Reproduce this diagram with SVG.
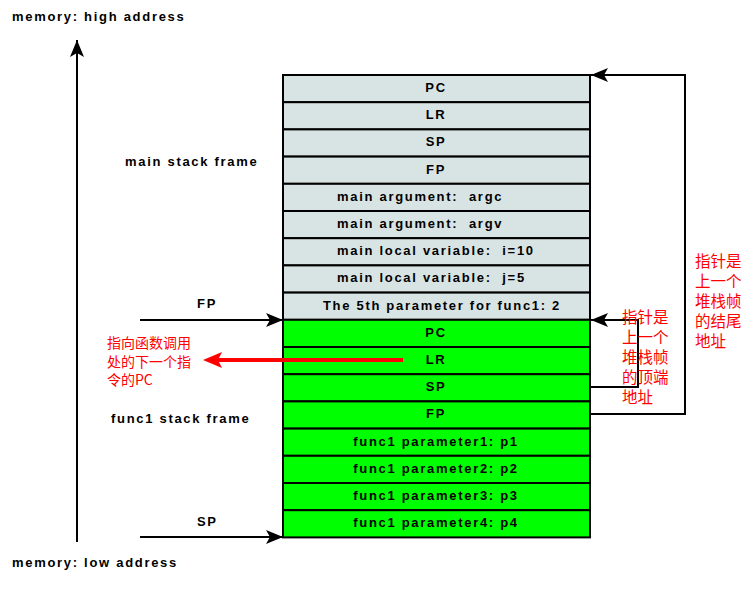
<svg xmlns="http://www.w3.org/2000/svg" width="755" height="592" viewBox="0 0 755 592">
<style>
.lbl{font-family:"Liberation Sans",Arial,sans-serif;font-weight:bold;font-size:13px;letter-spacing:1.7px;fill:#000;white-space:pre}
.cell text{font-family:"Liberation Sans",Arial,sans-serif;font-weight:bold;font-size:13px;letter-spacing:1.7px;fill:#000;white-space:pre}
.main rect{fill:#d8e4e4;stroke:#000;stroke-width:2}
.func rect{fill:#00ff00;stroke:#000;stroke-width:2}
.cn{fill:#000;text-anchor:middle}
.red{font-family:"Noto Sans CJK SC","Liberation Sans",sans-serif;font-size:15.5px;fill:#ff0000}
.redl{font-family:"Noto Sans CJK SC","Liberation Sans",sans-serif;font-size:14px;fill:#ff0000}
.ln{fill:none;stroke:#000;stroke-width:2}
</style>
<defs>
<marker id="ah" markerUnits="userSpaceOnUse" markerWidth="18" markerHeight="16" refX="17" refY="7" orient="auto">
<path d="M0,0 L17,7 L0,14 L4,7 z" fill="#000"/>
</marker>
</defs>
<rect width="755" height="592" fill="#fff"/>
<text class="lbl" x="12" y="21">memory: high address</text>
<text class="lbl" x="12" y="567">memory: low address</text>
<text class="lbl" x="125" y="166">main stack frame</text>
<text class="lbl" x="111" y="423">func1 stack frame</text>
<text class="lbl" x="197" y="308">FP</text>
<text class="lbl" x="197" y="526">SP</text>
<g id="main-pc" class="cell main"><rect x="283" y="75" width="307" height="27.2"/><text class="cn" x="436" y="92">PC</text></g>
<g id="main-lr" class="cell main"><rect x="283" y="102.2" width="307" height="27.2"/><text class="cn" x="436" y="119.2">LR</text></g>
<g id="main-sp" class="cell main"><rect x="283" y="129.4" width="307" height="27.2"/><text class="cn" x="436" y="146.4">SP</text></g>
<g id="main-fp" class="cell main"><rect x="283" y="156.6" width="307" height="27.2"/><text class="cn" x="436" y="173.6">FP</text></g>
<g id="main-argc" class="cell main"><rect x="283" y="183.8" width="307" height="27.2"/><text x="337" y="200.8">main argument:  argc</text></g>
<g id="main-argv" class="cell main"><rect x="283" y="211" width="307" height="27.2"/><text x="337" y="228">main argument:  argv</text></g>
<g id="main-i" class="cell main"><rect x="283" y="238.2" width="307" height="27.2"/><text x="337" y="255.2">main local variable:  i=10</text></g>
<g id="main-j" class="cell main"><rect x="283" y="265.4" width="307" height="27.2"/><text x="337" y="282.4">main local variable:  j=5</text></g>
<g id="main-5th" class="cell main"><rect x="283" y="292.6" width="307" height="27.2"/><text class="cn" x="442" y="309.6">The 5th parameter for func1: 2</text></g>
<g id="func-pc" class="cell func"><rect x="283" y="319.8" width="307" height="27.2"/><text class="cn" x="436" y="336.8">PC</text></g>
<g id="func-lr" class="cell func"><rect x="283" y="347" width="307" height="27.2"/><text class="cn" x="436" y="364">LR</text></g>
<g id="func-sp" class="cell func"><rect x="283" y="374.2" width="307" height="27.2"/><text class="cn" x="436" y="391.2">SP</text></g>
<g id="func-fp" class="cell func"><rect x="283" y="401.4" width="307" height="27.2"/><text class="cn" x="436" y="418.4">FP</text></g>
<g id="func-p1" class="cell func"><rect x="283" y="428.6" width="307" height="27.2"/><text class="cn" x="436" y="445.6">func1 parameter1: p1</text></g>
<g id="func-p2" class="cell func"><rect x="283" y="455.8" width="307" height="27.2"/><text class="cn" x="436" y="472.8">func1 parameter2: p2</text></g>
<g id="func-p3" class="cell func"><rect x="283" y="483" width="307" height="27.2"/><text class="cn" x="436" y="500">func1 parameter3: p3</text></g>
<g id="func-p4" class="cell func"><rect x="283" y="510.2" width="307" height="27.2"/><text class="cn" x="436" y="527.2">func1 parameter4: p4</text></g>
<g id="connectors">
<line class="ln" x1="77" y1="542" x2="77" y2="40" marker-end="url(#ah)"/>
<line class="ln" x1="140" y1="320" x2="283" y2="320" marker-end="url(#ah)"/>
<line class="ln" x1="140" y1="537" x2="283" y2="537" marker-end="url(#ah)"/>
<polyline class="ln" points="590,387 638,387 638,320 591,320" marker-end="url(#ah)"/>
<polyline class="ln" points="590,414 685,414 685,75 591,75" marker-end="url(#ah)"/>
<line x1="403" y1="360" x2="218" y2="360" stroke="#ff0000" stroke-width="4"/>
<path d="M203,360 L222,352 L218,360 L222,368 z" fill="#ff0000"/>
</g>
<g id="notes">
<text class="redl" x="107" y="348">指向函数调用</text>
<text class="redl" x="107" y="366.5">处的下一个指</text>
<text class="redl" x="107" y="385">令的PC</text>
<text class="red" x="622" y="323">指针是</text>
<text class="red" x="622" y="343">上一个</text>
<text class="red" x="622" y="363">堆栈帧</text>
<text class="red" x="622" y="383">的顶端</text>
<text class="red" x="622" y="403">地址</text>
<text class="red" x="695" y="267">指针是</text>
<text class="red" x="695" y="287">上一个</text>
<text class="red" x="695" y="307">堆栈帧</text>
<text class="red" x="695" y="327">的结尾</text>
<text class="red" x="695" y="347">地址</text>
</g>
</svg>
